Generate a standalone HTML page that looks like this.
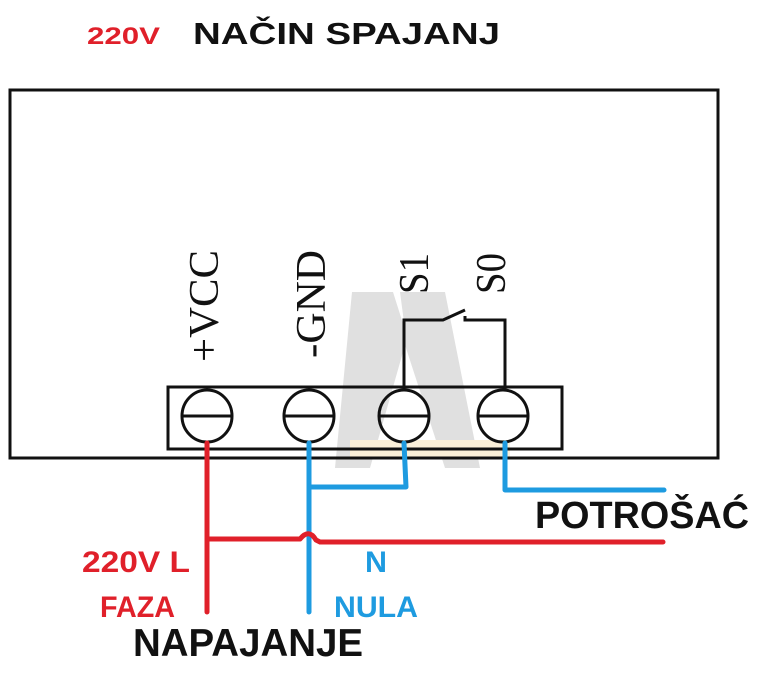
<!DOCTYPE html>
<html><head><meta charset="utf-8"><style>
html,body{margin:0;padding:0;background:#fff;}
svg{display:block;}
</style></head><body>
<svg width="777" height="690" viewBox="0 0 777 690" xmlns="http://www.w3.org/2000/svg">
<rect width="777" height="690" fill="#fff"/>
<!-- watermark -->
<polygon points="335,468 352,292 393,292 405,330 400,292 445,292 480,468 445,468 405,345 370,468" fill="#e0e0e0"/>
<rect x="350" y="440" width="160" height="18" fill="#fbf0d8"/>
<!-- main box -->
<rect x="10" y="90" width="708" height="368" fill="none" stroke="#111" stroke-width="3"/>
<!-- terminal block -->
<rect x="168" y="387" width="394" height="62" fill="none" stroke="#111" stroke-width="3"/>
<g fill="none" stroke="#111" stroke-width="3">
<ellipse cx="207" cy="416" rx="25" ry="26"/><line x1="182" y1="416" x2="232" y2="416"/>
<ellipse cx="309" cy="416" rx="25" ry="26"/><line x1="284" y1="416" x2="334" y2="416"/>
<ellipse cx="404" cy="416" rx="25" ry="26"/><line x1="379" y1="416" x2="429" y2="416"/>
<ellipse cx="503" cy="416" rx="25" ry="26"/><line x1="478" y1="416" x2="528" y2="416"/>
<polyline points="404,390 404,320 443,320 465,310"/>
<polyline points="465,316 465,320 505,320 505,390"/>
</g>
<!-- rotated labels -->
<g font-family="Liberation Serif, serif" font-size="42" fill="#111">
<text transform="translate(218,362) rotate(-90)" textLength="112" lengthAdjust="spacingAndGlyphs">+VCC</text>
<text transform="translate(325,358) rotate(-90)" textLength="108" lengthAdjust="spacingAndGlyphs">-GND</text>
<text transform="translate(428,294) rotate(-90)" textLength="41" lengthAdjust="spacingAndGlyphs">S1</text>
<text transform="translate(505,294) rotate(-90)" textLength="41" lengthAdjust="spacingAndGlyphs">S0</text>
</g>
<!-- wires -->
<g fill="none" stroke-width="5" stroke-linecap="round" stroke-linejoin="round">
<polyline stroke="#1e9be0" points="309,443 309,612"/>
<polyline stroke="#1e9be0" points="309,487 406,487 404,443"/>
<polyline stroke="#1e9be0" points="505,443 505,490 664,490"/>
<polyline stroke="#e0202a" points="207,443 207,612"/>
<path stroke="#e0202a" d="M207,539 L300,539 Q309,528 316,540 L320,542 L663,542"/>
</g>
<!-- text -->
<g font-family="Liberation Sans, sans-serif" font-weight="bold">
<text x="87" y="44" font-size="24" fill="#e0202a" textLength="73" lengthAdjust="spacingAndGlyphs">220V</text>
<text x="193" y="44" font-size="31" fill="#111" textLength="307" lengthAdjust="spacingAndGlyphs">NAČIN SPAJANJ</text>
<text x="535" y="528" font-size="38" fill="#111" textLength="214" lengthAdjust="spacingAndGlyphs">POTROŠAĆ</text>
<text x="82" y="572" font-size="30" fill="#e0202a" textLength="108" lengthAdjust="spacingAndGlyphs">220V  L</text>
<text x="100" y="617" font-size="30" fill="#e0202a" textLength="75" lengthAdjust="spacingAndGlyphs">FAZA</text>
<text x="365" y="572" font-size="30" fill="#1e9be0" textLength="22" lengthAdjust="spacingAndGlyphs">N</text>
<text x="334" y="617" font-size="30" fill="#1e9be0" textLength="84" lengthAdjust="spacingAndGlyphs">NULA</text>
<text x="133" y="656" font-size="39" fill="#111" textLength="230" lengthAdjust="spacingAndGlyphs">NAPAJANJE</text>
</g>
</svg>
</body></html>
